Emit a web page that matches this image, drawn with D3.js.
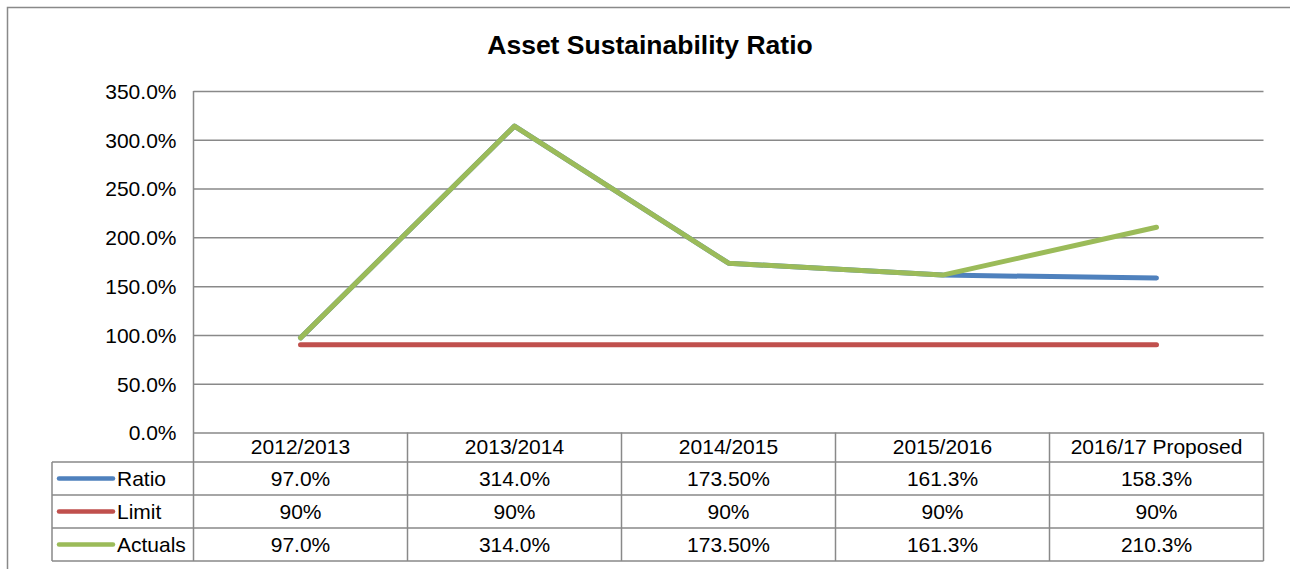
<!DOCTYPE html>
<html>
<head>
<meta charset="utf-8">
<script src="https://cdn.jsdelivr.net/npm/d3@7"></script>
<style>
  body { margin: 0; background: #fff; }
  svg text { font-family: "Liberation Sans", Arial, sans-serif; fill: #000; }
</style>
</head>
<body>
<svg id="chart" width="1290" height="569"></svg>
<script>
const categories = ['2012/2013', '2013/2014', '2014/2015', '2015/2016', '2016/17 Proposed'];
const ratioValues = [97.0, 314.0, 173.5, 161.3, 158.3];
const limitValues = [90, 90, 90, 90, 90];
const actualValues = [97.0, 314.0, 173.5, 161.3, 210.3];
const ratioLabels = ['97.0%', '314.0%', '173.50%', '161.3%', '158.3%'];
const limitLabels = ['90%', '90%', '90%', '90%', '90%'];
const actualLabels = ['97.0%', '314.0%', '173.50%', '161.3%', '210.3%'];
const yTicks = [0, 50, 100, 150, 200, 250, 300, 350];

const series = [
    { name: 'Ratio', values: ratioValues, labels: ratioLabels, color: '#4F81BD' },
    { name: 'Limit', values: limitValues, labels: limitLabels, color: '#C0504D' },
    { name: 'Actuals', values: actualValues, labels: actualLabels, color: '#9BBB59' }
];

const svg = d3.select('#chart');
const grid = '#898989';
const fs = '21px';

// plot box
const plotLeft = 193.5, plotRight = 1263.5, plotTop = 91, plotBottom = 432.5;
const legendLeft = 52;
const headerBottom = 462;
const rowH = 33;

// outer chart border
svg.append('rect')
    .attr('x', 7.5).attr('y', 7.5)
    .attr('width', 1300).attr('height', 600)
    .attr('fill', 'none')
    .attr('stroke', grid)
    .attr('stroke-width', 1.5);

svg.append('text')
    .attr('x', 650).attr('y', 54)
    .attr('text-anchor', 'middle')
    .attr('font-size', '26.5px')
    .attr('font-weight', 'bold')
    .text('Asset Sustainability Ratio');

const x = d3.scaleBand().domain(categories).range([plotLeft, plotRight]);
const y = d3.scaleLinear().domain([0, 350]).range([plotBottom, plotTop]);

// gridlines + y labels via axis
const yAxis = svg.append('g')
    .attr('transform', `translate(${plotLeft},0)`)
    .call(d3.axisLeft(y)
        .tickValues(yTicks)
        .tickSize(-(plotRight - plotLeft))
        .tickPadding(17)
        .tickFormat(d => d.toFixed(1) + '%'));
yAxis.select('.domain').remove();
yAxis.selectAll('.tick line')
    .attr('stroke', grid)
    .attr('stroke-width', 1.5);
yAxis.selectAll('.tick text')
    .attr('font-size', fs)
    .attr('dy', '0.35em')
    .style('fill', '#000');

// data table lines
const tableBottom = headerBottom + rowH * 3;

// vertical axis line down through the table
svg.append('line')
    .attr('x1', plotLeft).attr('x2', plotLeft)
    .attr('y1', plotTop).attr('y2', tableBottom)
    .attr('stroke', grid).attr('stroke-width', 1.5);

const hLines = [headerBottom, headerBottom + rowH, headerBottom + rowH * 2, tableBottom];
svg.selectAll('.row-line')
    .data(hLines)
    .enter()
    .append('line')
    .attr('class', 'row-line')
    .attr('x1', legendLeft).attr('x2', plotRight)
    .attr('y1', d => d).attr('y2', d => d)
    .attr('stroke', grid).attr('stroke-width', 1.5);

svg.append('line')
    .attr('x1', legendLeft).attr('x2', legendLeft)
    .attr('y1', headerBottom).attr('y2', tableBottom)
    .attr('stroke', grid).attr('stroke-width', 1.5);

svg.selectAll('.col-line')
    .data(categories)
    .enter()
    .append('line')
    .attr('class', 'col-line')
    .attr('x1', d => x(d) + x.bandwidth()).attr('x2', d => x(d) + x.bandwidth())
    .attr('y1', plotBottom).attr('y2', tableBottom)
    .attr('stroke', grid).attr('stroke-width', 1.5);

// header labels
svg.selectAll('.cat-label')
    .data(categories)
    .enter()
    .append('text')
    .attr('class', 'cat-label')
    .attr('x', d => x(d) + x.bandwidth() / 2)
    .attr('y', (plotBottom + headerBottom) / 2 + 7)
    .attr('text-anchor', 'middle')
    .attr('font-size', fs)
    .text(d => d);

// rows: legend key + values
series.forEach((s, i) => {
    const cy = headerBottom + rowH * i + rowH / 2;
    svg.append('line')
        .attr('x1', 59).attr('x2', 113)
        .attr('y1', cy).attr('y2', cy)
        .attr('stroke', s.color)
        .attr('stroke-width', 4.5)
        .attr('stroke-linecap', 'round');
    svg.append('text')
        .attr('x', 117).attr('y', cy + 7.5)
        .attr('font-size', fs)
        .text(s.name);
    svg.selectAll('.val-' + i)
        .data(s.labels)
        .enter()
        .append('text')
        .attr('class', 'val-' + i)
        .attr('x', (d, j) => x(categories[j]) + x.bandwidth() / 2)
        .attr('y', cy + 7.5)
        .attr('text-anchor', 'middle')
        .attr('font-size', fs)
        .text(d => d);
});

// series lines
const line = d3.line()
    .x((d, j) => x(categories[j]) + x.bandwidth() / 2)
    .y(d => y(d));

svg.selectAll('.series')
    .data(series)
    .enter()
    .append('path')
    .attr('class', 'series')
    .attr('d', d => line(d.values))
    .attr('fill', 'none')
    .attr('stroke', d => d.color)
    .attr('stroke-width', 5)
    .attr('stroke-linecap', 'round')
    .attr('stroke-linejoin', 'round');
</script>
</body>
</html>
